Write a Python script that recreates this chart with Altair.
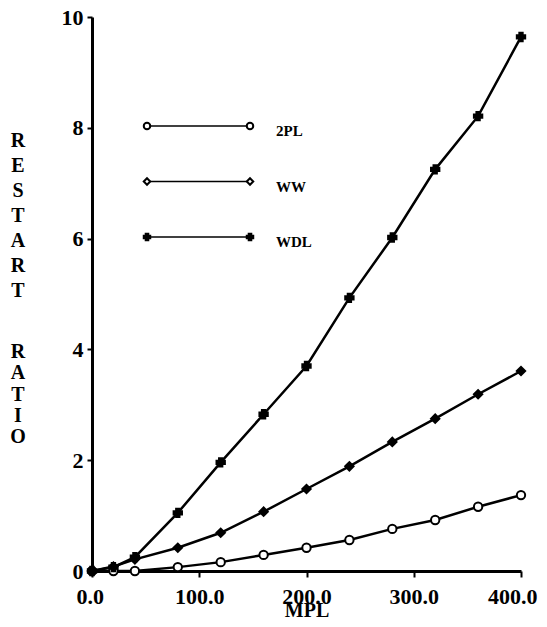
import altair as alt
import pandas as pd

SERIES = ["2PL", "WW", "WDL"]
MPL = [0, 20, 40, 80, 120, 160, 200, 240, 280, 320, 360, 400]
PL2 = [0, 0, 0, 0.07, 0.16, 0.29, 0.42, 0.56, 0.76, 0.92, 1.16, 1.37]
WW = [0, 0.08, 0.21, 0.42, 0.69, 1.07, 1.48, 1.89, 2.33, 2.75, 3.19, 3.61]
WDL = [0, 0.07, 0.25, 1.05, 1.96, 2.83, 3.70, 4.93, 6.02, 7.25, 8.21, 9.64]
X_TICKS = [0, 100, 200, 300, 400]
Y_TICKS = [0, 2, 4, 6, 8, 10]
Y_TITLE_WORDS = ["RESTART", "RATIO"]

rows = []
for name, vals in zip(SERIES, [PL2, WW, WDL]):
    for x, y in zip(MPL, vals):
        rows.append({"series": name, "MPL": x, "ratio": y})
df = pd.DataFrame(rows)
legend_df = pd.DataFrame({"series": SERIES})

FONT = "Liberation Serif"
shape_scale = alt.Scale(domain=SERIES, range=["circle", "diamond", "cross"])
fill_scale = alt.Scale(domain=SERIES, range=["white", "black", "black"])
leg_fill_scale = alt.Scale(domain=SERIES, range=["white", "white", "black"])
sw_scale = alt.Scale(domain=SERIES, range=[2, 2, 0.8])

x_enc = alt.X(
    "MPL:Q",
    scale=alt.Scale(domain=[0, 400], nice=False),
    axis=alt.Axis(values=X_TICKS, format=".1f", title="MPL", grid=False,
                  titleY=45, titleBaseline="alphabetic",
                  labelFlush=True, labelFlushOffset=16),
)
y_enc = alt.Y(
    "ratio:Q",
    scale=alt.Scale(domain=[0, 10], nice=False),
    axis=alt.Axis(values=Y_TICKS, format="d", title=None, grid=False, labelFlush=False),
)

lines = alt.Chart(df).mark_line(color="black", strokeWidth=2.5).encode(
    x=x_enc, y=y_enc, detail="series:N"
)
points = alt.Chart(df).mark_point(stroke="black", opacity=1, filled=False).encode(
    x=x_enc, y=y_enc,
    shape=alt.Shape("series:N", scale=shape_scale, legend=None),
    fill=alt.Fill("series:N", scale=fill_scale, legend=None),
    strokeWidth=alt.StrokeWidth("series:N", scale=sw_scale, legend=None),
    size=alt.value(70),
)

# vertical, letter-stacked y-axis title
title_df = pd.DataFrame({"word": Y_TITLE_WORDS})
title_base = alt.Chart(title_df).transform_calculate(
    stacked="join(split(datum.word, ''), '\\n')"
)
title_restart = title_base.transform_filter("datum.word == 'RESTART'").mark_text(
    font=FONT, fontSize=20, fontWeight="bold", color="black", align="center",
    baseline="alphabetic", lineBreak="\n", lineHeight=25,
).encode(x=alt.value(-74), y=alt.value(130), text="stacked:N")
title_ratio = title_base.transform_filter("datum.word == 'RATIO'").mark_text(
    font=FONT, fontSize=20, fontWeight="bold", color="black", align="center",
    baseline="alphabetic", lineBreak="\n", lineHeight=21.3,
).encode(x=alt.value(-74), y=alt.value(341), text="stacked:N")

leg_base = alt.Chart(legend_df).transform_window(
    row="row_number()"
).transform_calculate(
    ly="109 + 55.5 * (datum.row - 1)", ty="114 + 55.5 * (datum.row - 1)"
)
leg_line = leg_base.mark_rule(color="black", strokeWidth=1.6).encode(
    x=alt.value(55), x2=alt.value(158), y=alt.Y("ly:Q", scale=None)
)


def leg_points(xpos):
    return leg_base.mark_point(stroke="black", opacity=1, filled=False).encode(
        x=alt.value(xpos), y=alt.Y("ly:Q", scale=None),
        shape=alt.Shape("series:N", scale=shape_scale, legend=None),
        fill=alt.Fill("series:N", scale=leg_fill_scale, legend=None),
        strokeWidth=alt.StrokeWidth("series:N", scale=sw_scale, legend=None),
        size=alt.value(42),
    )


leg_text = leg_base.mark_text(align="left", baseline="middle", font=FONT,
                              fontSize=15, fontWeight="bold", color="black").encode(
    x=alt.value(184), y=alt.Y("ty:Q", scale=None), text="series:N"
)

chart = alt.layer(
    lines, points, leg_line, leg_points(55), leg_points(158), leg_text,
    title_restart, title_ratio,
).resolve_scale(
    fill="independent"
).properties(
    width=429, height=554,
    padding={"left": 84, "top": 9, "right": 18, "bottom": 48},
    autosize=alt.AutoSizeParams(type="none"),
).configure_view(stroke=None).configure_axis(
    domainColor="black", domainWidth=3, tickColor="black", tickWidth=2, tickSize=6,
    labelFont=FONT, labelFontSize=22, labelFontWeight="bold", labelColor="black",
    titleFont=FONT, titleFontSize=20, titleFontWeight="bold", titleColor="black",
    labelOverlap=False,
).configure_axisX(labelPadding=9).configure_axisY(labelPadding=4, tickSize=5)

chart.save("out.html", embed_options={"renderer": "svg", "actions": False})
